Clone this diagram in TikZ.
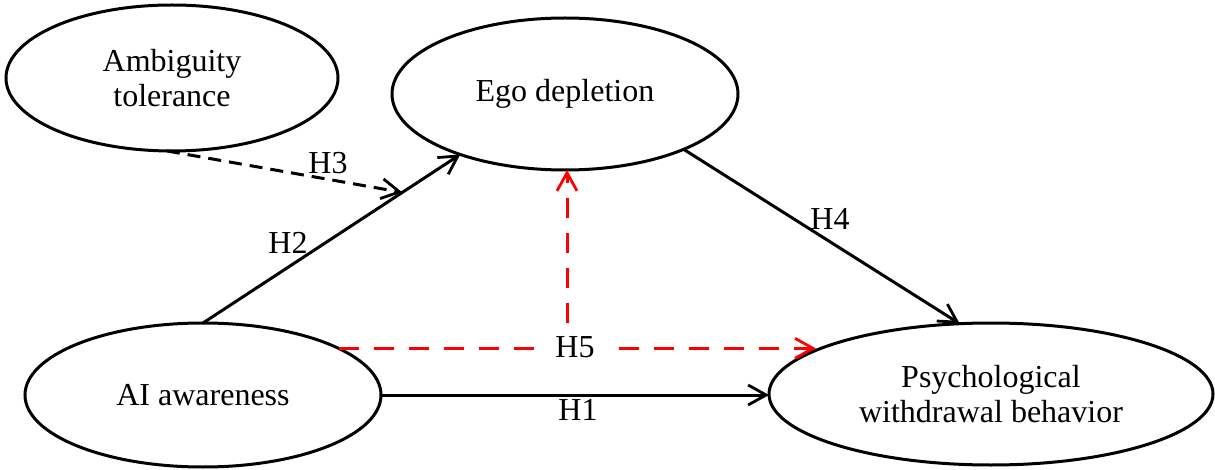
\documentclass[tikz,border=0pt]{standalone}
\usepackage{fontspec}
\setmainfont{Liberation Serif}
\usetikzlibrary{shapes.geometric,arrows.meta}
\begin{document}
\begin{tikzpicture}[x=0.5pt,y=-0.5pt,
  latent/.style={ellipse,draw,line width=1.5pt,inner sep=0pt,outer sep=0pt,align=center,
    font=\fontsize{16}{17.5}\selectfont},
  lbl/.style={font=\fontsize{16}{17.5}\selectfont,inner sep=1pt},
  arr/.style={line width=1.5pt,-{Straight Barb[length=9pt,width=10pt,line width=1.4pt]}},
  blkdash/.style={dash pattern=on 6.5pt off 4pt},
  reddash/.style={draw=red,dash pattern=on 10pt off 7.5pt}]
\useasboundingbox (0,0) rectangle (1215,470);
\node[latent,minimum width=166pt,minimum height=73pt] (amb) at (172,78) {Ambiguity\\tolerance};
\node[latent,minimum width=173pt,minimum height=76pt] (ego) at (565,94) {Ego depletion};
\node[latent,minimum width=178pt,minimum height=72pt] (ai) at (203,395) {AI awareness};
\node[latent,minimum width=222pt,minimum height=71pt] (pwb) at (991,394) {Psychological\\withdrawal behavior};
% H2
\draw[arr] (ai.north) -- coordinate[pos=0.775] (h3end) (ego.210);
% H3
\draw[arr,blkdash] (amb.266) -- (h3end);
% H4
\draw[arr] (ego.-25) -- (pwb.114);
% H1
\draw[arr] (ai.east) -- (ai.east -| pwb.west);
% H5
\draw[arr,reddash] (ai.19) -- (ai.19 -| pwb.166);
\coordinate (vstart) at (567,323);
\draw[arr,reddash] (vstart) -- (vstart |- ego.south);
% labels
\node[lbl] (h2) at (288,243) {H2};
\node[lbl] (h3) at (328,163) {H3};
\node[lbl] (h4) at (830,219) {H4};
\node[lbl] (h1) at (578,410) {H1};
\node[lbl,fill=white,inner xsep=10pt,inner ysep=1pt] (h5) at (575,347) {H5};
\end{tikzpicture}
\end{document}
